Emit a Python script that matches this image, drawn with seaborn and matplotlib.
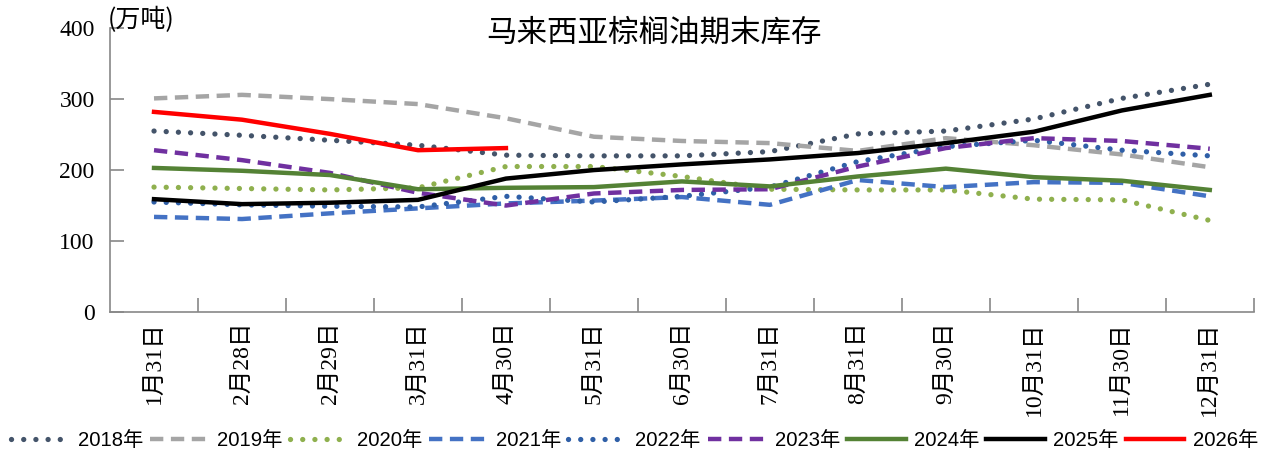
import seaborn as sns
import matplotlib.pyplot as plt
import numpy as np

# 日期（横轴）
dates = ['1月31日', '2月28日', '2月29日', '3月31日', '4月30日', '5月31日', '6月30日',
         '7月31日', '8月31日', '9月30日', '10月31日', '11月30日', '12月31日']

# 各年度期末库存（万吨）
y2018 = [255, 249, 242, 235, 221, 220, 220, 226, 251, 255, 272, 301, 321]
y2019 = [301, 306, 300, 293, 273, 247, 241, 238, 227, 245, 235, 222, 204]
y2020 = [176, 174, 172, 175, 205, 205, 191, 173, 172, 172, 159, 158, 129]
y2021 = [134, 131, 139, 146, 153, 157, 162, 151, 186, 176, 183, 182, 163]
y2022 = [155, 151, 149, 148, 163, 155, 163, 176, 212, 233, 242, 228, 220]
y2023 = [228, 214, 196, 168, 150, 167, 172, 173, 205, 231, 245, 241, 230]
y2024 = [203, 199, 193, 173, 175, 176, 184, 177, 191, 202, 190, 185, 172]
y2025 = [159, 152, 154, 158, 188, 200, 208, 215, 224, 238, 254, 284, 306]
y2026 = [282, 271, 251, 228, 231]

years = ['2018年', '2019年', '2020年', '2021年', '2022年', '2023年', '2024年', '2025年', '2026年']
series = [y2018, y2019, y2020, y2021, y2022, y2023, y2024, y2025, y2026]
colors = ['#44546A', '#A5A5A5', '#8FB04E', '#4472C4', '#2F5FA7', '#7030A0', '#548235', '#000000', '#FF0000']
dot = (0, (0.01, 2.3))
dash = (0, (3.0, 1.7))
styles = [dot, dash, dot, dash, dot, dash, '-', '-', '-']

plt.rcParams['font.family'] = ['Liberation Serif', 'Noto Sans CJK SC']

fig = plt.figure(figsize=(12.69, 4.54), dpi=100)
ax = fig.add_axes([0.0867, 0.3128, 0.9013, 0.6252])

for name, vals, c, ls in zip(years, series, colors, styles):
    x = np.arange(len(vals))
    if ls is dot:
        sns.lineplot(x=x, y=vals, color=c, linestyle=ls, linewidth=3.8,
                     dash_capstyle='round', label=name, ax=ax)
    else:
        sns.lineplot(x=x, y=vals, color=c, linestyle=ls, linewidth=3.2,
                     dash_capstyle='butt', label=name, ax=ax)

ax.set_xlim(-0.5, 12.5)
ax.set_ylim(0, 400)
ax.set_yticks([0, 100, 200, 300, 400])
ax.set_xticks(np.arange(len(dates)))
ax.set_xticklabels(dates, rotation=90, fontsize=17)
ax.set_xticks(np.arange(0.5, 13, 1), minor=True)
ax.tick_params(axis='x', which='major', length=0, pad=7)
ax.tick_params(axis='x', which='minor', direction='in', length=10, color='#888888', width=1.2)
ax.tick_params(axis='y', direction='in', length=10, color='#888888', width=1.2, labelsize=17, pad=11)
for s in ['top', 'right']:
    ax.spines[s].set_visible(False)
for s in ['left', 'bottom']:
    ax.spines[s].set_color('#888888')
    ax.spines[s].set_linewidth(1.2)
ax.set_xlabel('')
ax.set_ylabel('')

fig.text(0.515, 0.927, '马来西亚棕榈油期末库存', ha='center', va='center', fontsize=22,
         family=['Noto Sans CJK SC'])
fig.text(0.085, 0.955, '(万吨)', ha='left', va='center', fontsize=18,
         family=['Noto Sans CJK SC'])

ax.legend(loc='center', bbox_to_anchor=(0.5, 0.03), bbox_transform=fig.transFigure,
          ncol=9, frameon=False, handlelength=2.9, handletextpad=0.4, columnspacing=0.35,
          prop={'family': ['Liberation Sans Narrow', 'Liberation Sans', 'Noto Sans CJK SC'], 'size': 14.6})

fig.savefig('out.png', dpi=100)
